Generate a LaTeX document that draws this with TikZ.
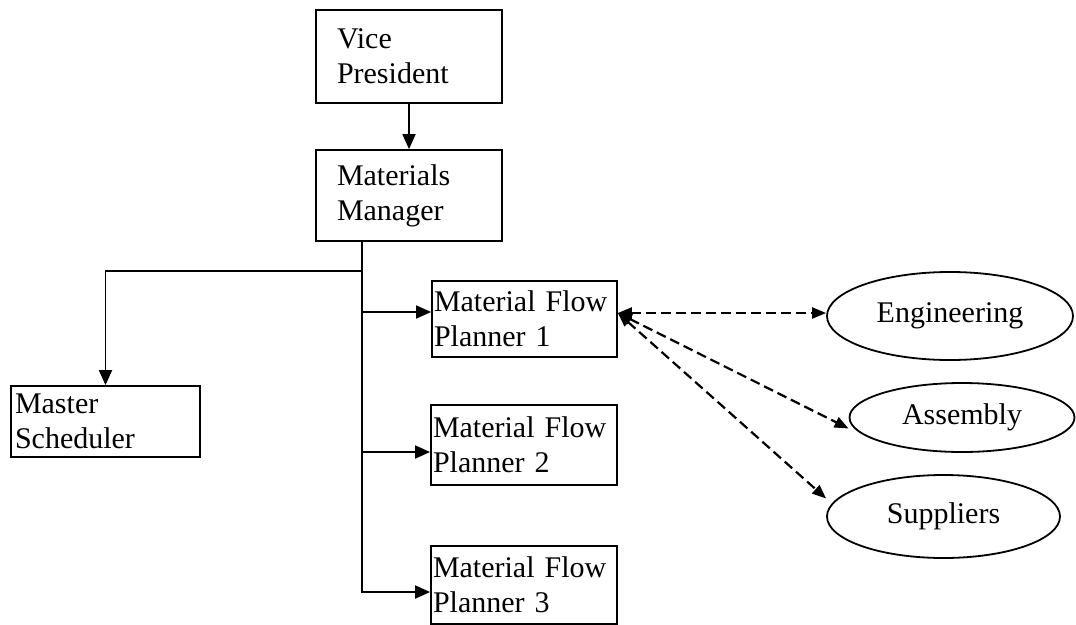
\documentclass[tikz,border=0pt]{standalone}
\usepackage{fontspec}
\setmainfont{Liberation Serif}
\usetikzlibrary{arrows.meta,shapes.geometric}
\begin{document}
\begin{tikzpicture}[x=1pt,y=-1pt,
  every node/.style={font=\fontsize{30}{35}\selectfont},
  box/.style={draw,line width=1.8pt,rectangle,inner ysep=0pt,align=left},
  oval/.style={draw,line width=1.8pt,ellipse,inner sep=0pt},
  arr/.style={line width=1.8pt,-{Triangle[length=15pt,width=13pt]}},
  link/.style={line width=2.2pt,dash pattern=on 10pt off 5pt,
    {Triangle[length=14pt,width=11pt]}-{Triangle[length=14pt,width=11pt]}}
]
% canvas
\path[use as bounding box,fill=white] (0,0) rectangle (1076,624);

% organisation boxes
\node[box,inner xsep=21pt,text width=144pt,minimum height=93pt] (vp) at (409,56.5) {Vice\\President};
\node[box,inner xsep=21pt,text width=144pt,minimum height=91pt] (mm) at (409,195.5) {Materials\\Manager};
\node[box,inner xsep=4pt,text width=181pt,minimum height=71pt] (ms) at (105.5,421.5) {Master\\Scheduler};
\node[box,inner xsep=2pt,text width=181pt,minimum height=76pt] (p1) at (524.5,319) {Material Flow\\Planner 1};
\node[box,inner xsep=2pt,text width=182pt,minimum height=80pt] (p2) at (524,445) {Material Flow\\Planner 2};
\node[box,inner xsep=2pt,text width=182pt,minimum height=78pt] (p3) at (524,585) {Material Flow\\Planner 3};

% external groups
\node[oval,minimum width=246pt,minimum height=88pt] (eng) at (950,316) {Engineering};
\node[oval,minimum width=225pt,minimum height=69pt] (asm) at (962,417.5) {Assembly};
\node[oval,minimum width=233pt,minimum height=83pt] (sup) at (943.5,516.5) {Suppliers};

% reporting lines
\draw[arr] (vp.south) -- (mm.north);
\coordinate (trunk) at ([xshift=-47pt]mm.south);
\coordinate (split) at ([yshift=-29pt]trunk);
\coordinate (a1) at ([yshift=7pt]p1.west);
\coordinate (a2) at ([yshift=-7pt]p2.west);
\coordinate (a3) at ([yshift=-7pt]p3.west);
\draw[arr] (trunk) |- (a3);
\draw[arr] (split) -| (ms.north);
\draw[arr] (a1 -| trunk) -- (a1);
\draw[arr] (a2 -| trunk) -- (a2);

% coordination links
\coordinate (hub) at ([yshift=6pt]p1.east);
\draw[link] (hub) -- (hub -| eng.west);
\draw[link] (hub) -- ([yshift=-11pt]asm.west);
\draw[link] (hub) -- ([yshift=18pt]sup.west);
\end{tikzpicture}
\end{document}
